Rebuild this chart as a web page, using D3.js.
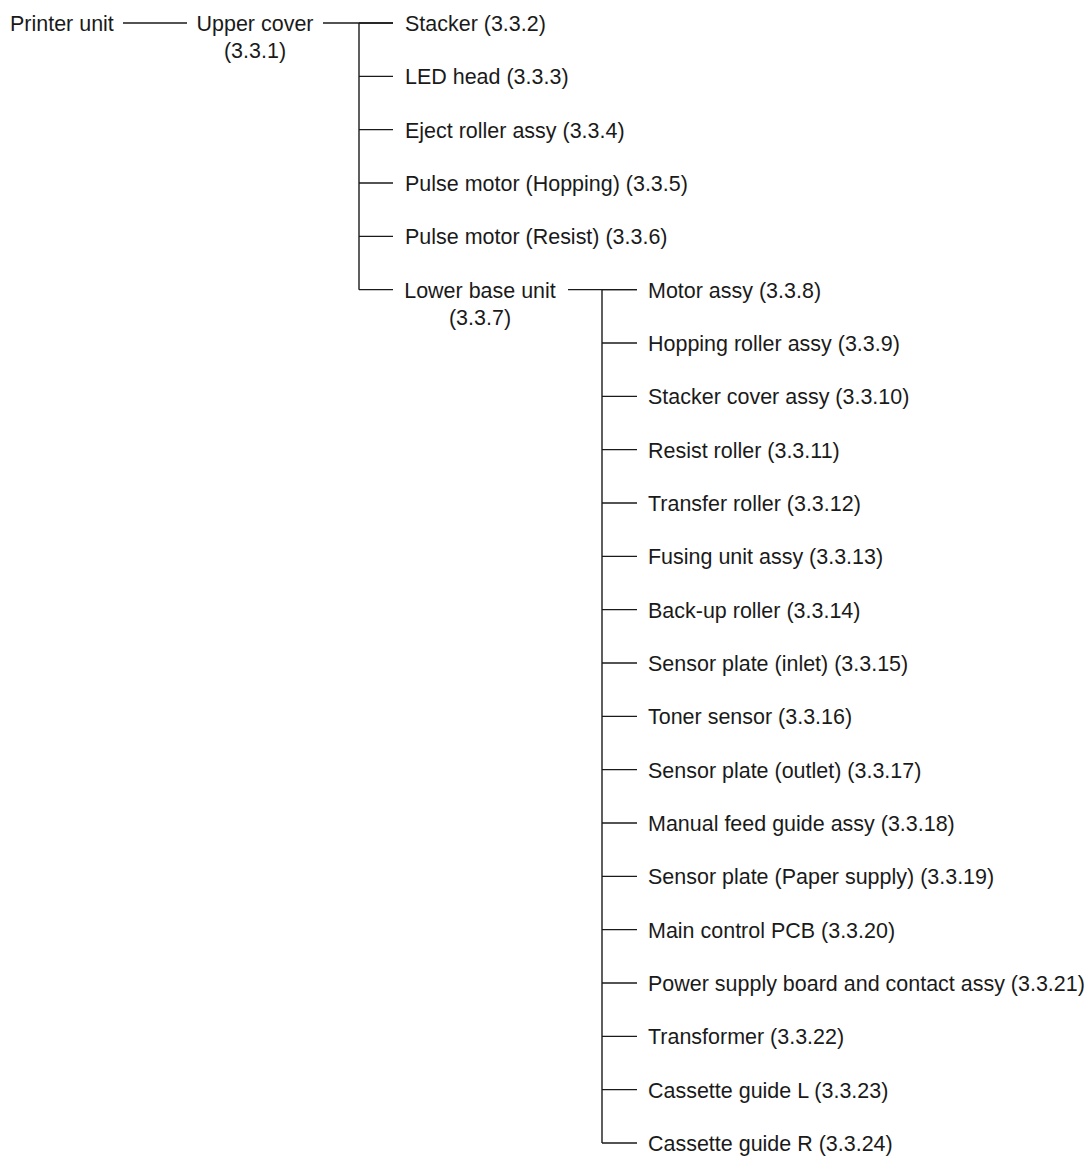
<!DOCTYPE html>
<html>
<head>
<meta charset="utf-8">
<script src="https://cdn.jsdelivr.net/npm/d3@7"></script>
<style>
  body { margin: 0; background: #fff; }
  text { font-family: "Liberation Sans", Arial, sans-serif; font-size: 22.5px; fill: #1a1a1a; }
</style>
</head>
<body>
<svg id="chart"></svg>
<script>
// ---------------- Data ----------------
var rootName = "Printer unit";
var upperCover = ["Upper cover", "(3.3.1)"];
var upperChildren = [
  "Stacker (3.3.2)",
  "LED head (3.3.3)",
  "Eject roller assy (3.3.4)",
  "Pulse motor (Hopping) (3.3.5)",
  "Pulse motor (Resist) (3.3.6)"
];
var lowerBase = ["Lower base unit", "(3.3.7)"];
var lowerChildren = [
  "Motor assy (3.3.8)",
  "Hopping roller assy (3.3.9)",
  "Stacker cover assy (3.3.10)",
  "Resist roller (3.3.11)",
  "Transfer roller (3.3.12)",
  "Fusing unit assy (3.3.13)",
  "Back-up roller (3.3.14)",
  "Sensor plate (inlet) (3.3.15)",
  "Toner sensor (3.3.16)",
  "Sensor plate (outlet) (3.3.17)",
  "Manual feed guide assy (3.3.18)",
  "Sensor plate (Paper supply) (3.3.19)",
  "Main control PCB (3.3.20)",
  "Power supply board and contact assy (3.3.21)",
  "Transformer (3.3.22)",
  "Cassette guide L (3.3.23)",
  "Cassette guide R (3.3.24)"
];

// ---------------- Layout ----------------
var width = 1091, height = 1158;
var totalRows = upperChildren.length + lowerChildren.length; // rows 0..21
var svg = d3.select('#chart').attr('width', width).attr('height', height);

var yScale = d3.scaleLinear()
  .domain([0, totalRows - 1])
  .range([23, 1143]);

var baseOff = 8;     // text baseline below the connector line
var lineGap = 27;    // second line of a two-line label
var squeeze = 0.955; // slightly condensed look

var line = svg.append('g')
  .attr('stroke', '#1a1a1a')
  .attr('stroke-width', 1.4)
  .attr('fill', 'none');

function hline(x1, x2, row) {
  line.append('line')
    .attr('x1', x1).attr('x2', x2)
    .attr('y1', yScale(row)).attr('y2', yScale(row));
}
function vline(x, r1, r2) {
  line.append('line')
    .attr('x1', x).attr('x2', x)
    .attr('y1', yScale(r1)).attr('y2', yScale(r2));
}
function label(x, y, txt, anchor) {
  svg.append('text')
    .attr('transform', 'translate(' + x + ',' + y + ') scale(' + squeeze + ',1)')
    .attr('text-anchor', anchor || 'start')
    .text(txt);
}

// root
label(10, yScale(0) + baseOff, rootName);
hline(123, 187, 0);

// Upper cover (two lines, centered)
upperCover.forEach((d, i) => label(255, yScale(0) + baseOff + i * lineGap, d, 'middle'));
hline(323, 393, 0);

// Upper cover children + lower base branch
vline(359, 0, upperChildren.length);
d3.range(upperChildren.length + 1).forEach(r => hline(359, 393, r));
upperChildren.forEach((d, i) => label(405, yScale(i) + baseOff, d));

// Lower base unit (two lines, centered)
var lbRow = upperChildren.length;
lowerBase.forEach((d, i) => label(480, yScale(lbRow) + baseOff + i * lineGap, d, 'middle'));
hline(568, 637, lbRow);

// Lower base children
vline(602, lbRow, lbRow + lowerChildren.length - 1);
lowerChildren.forEach((d, i) => hline(602, 637, lbRow + i));
lowerChildren.forEach((d, i) => label(648, yScale(lbRow + i) + baseOff, d));
</script>
</body>
</html>
